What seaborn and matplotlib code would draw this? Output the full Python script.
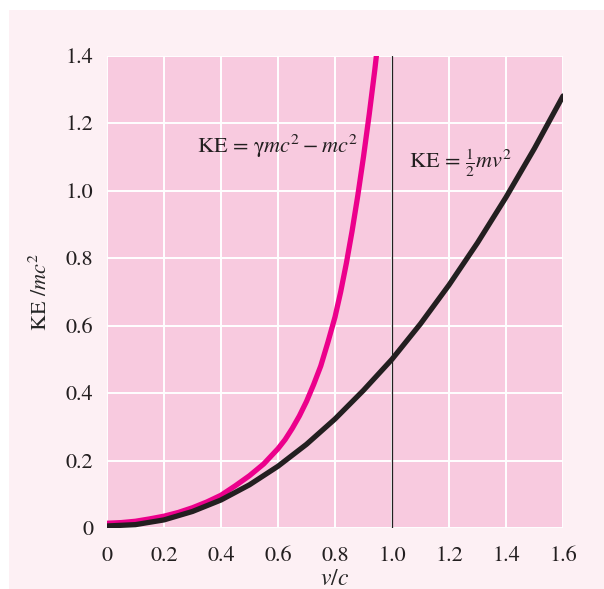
import numpy as np
import pandas as pd
import matplotlib
matplotlib.use("Agg")
import matplotlib.pyplot as plt
import seaborn as sns
from matplotlib.patches import Rectangle

# values
rel_v = [0.0, 0.05, 0.1, 0.15, 0.2, 0.25, 0.3, 0.35, 0.4, 0.45, 0.5, 0.55, 0.6,
         0.625, 0.65, 0.675, 0.7, 0.725, 0.75, 0.775, 0.8, 0.82, 0.84, 0.86, 0.88,
         0.9, 0.92, 0.94, 0.96]
rel_ke = [0.014, 0.016, 0.02, 0.027, 0.035, 0.046, 0.06, 0.077, 0.097, 0.125, 0.155,
          0.19, 0.235, 0.262, 0.295, 0.332, 0.375, 0.425, 0.48, 0.55, 0.625, 0.70,
          0.785, 0.88, 0.985, 1.1, 1.225, 1.36, 1.51]

cls_v = [0.0, 0.1, 0.2, 0.3, 0.4, 0.5, 0.6, 0.7, 0.8, 0.9, 1.0, 1.1, 1.2, 1.3, 1.4, 1.5, 1.6]
cls_ke = [0.006, 0.01, 0.024, 0.049, 0.083, 0.128, 0.183, 0.248, 0.323, 0.408, 0.5,
          0.605, 0.72, 0.845, 0.98, 1.125, 1.28]

x_ticks = [0, 0.2, 0.4, 0.6, 0.8, 1.0, 1.2, 1.4, 1.6]
x_labels = ["0", "0.2", "0.4", "0.6", "0.8", "1.0", "1.2", "1.4", "1.6"]
y_ticks = [0, 0.2, 0.4, 0.6, 0.8, 1.0, 1.2, 1.4]
y_labels = ["0", "0.2", "0.4", "0.6", "0.8", "1.0", "1.2", "1.4"]

rel_label = r"KE = $\mathrm{\gamma}mc^2 - mc^2$"
cls_label = r"KE = $\frac{1}{2}mv^2$"

PANEL = "#fdf0f4"
FACE = "#f8cadf"
MAGENTA = "#ec008c"
DARK = "#231f20"

sns.set_style("white", {"axes.facecolor": FACE, "grid.color": "white"})
plt.rcParams["font.family"] = ["STIXGeneral", "DejaVu Serif"]
plt.rcParams["mathtext.fontset"] = "stix"
plt.rcParams["text.color"] = DARK

rel = pd.DataFrame({"v": rel_v, "ke": rel_ke})
cls = pd.DataFrame({"v": cls_v, "ke": cls_ke})

fig = plt.figure(figsize=(6.04, 5.89), dpi=100, facecolor="white")
fig.patches.append(Rectangle((9 / 604, 0), 1, 579 / 589, transform=fig.transFigure,
                             facecolor=PANEL, edgecolor="none", zorder=-10))
ax = fig.add_axes([107 / 604, 61 / 589, 456 / 604, 472.5 / 589])

ax.grid(True, color="white", linewidth=1.4)
ax.set_axisbelow(True)

sns.lineplot(data=rel, x="v", y="ke", ax=ax, color=MAGENTA, linewidth=3.8, zorder=3)
sns.lineplot(data=cls, x="v", y="ke", ax=ax, color=DARK, linewidth=3.8, zorder=4)
for ln in ax.lines:
    ln.set_solid_joinstyle("round")
ax.axvline(1.0, color=DARK, linewidth=0.9, zorder=2)

ax.set_xlim(0, 1.6)
ax.set_ylim(0, 1.4)
ax.set_xticks(x_ticks)
ax.set_xticklabels(x_labels)
ax.set_yticks(y_ticks)
ax.set_yticklabels(y_labels)
ax.tick_params(axis="both", length=0, labelsize=16, colors=DARK)
ax.tick_params(axis="x", pad=13)
ax.tick_params(axis="y", pad=10)
for s in ax.spines.values():
    s.set_visible(False)

ax.set_xlabel(r"$v/c$", fontsize=17, labelpad=2)
ax.set_ylabel(r"KE /$mc^2$", fontsize=16, labelpad=10)

ax.text(0.316, 1.13, rel_label, fontsize=16, va="center", ha="left")
ax.text(1.06, 1.08, cls_label, fontsize=16, va="center", ha="left")

fig.savefig("out.png", dpi=100, facecolor=fig.get_facecolor())
